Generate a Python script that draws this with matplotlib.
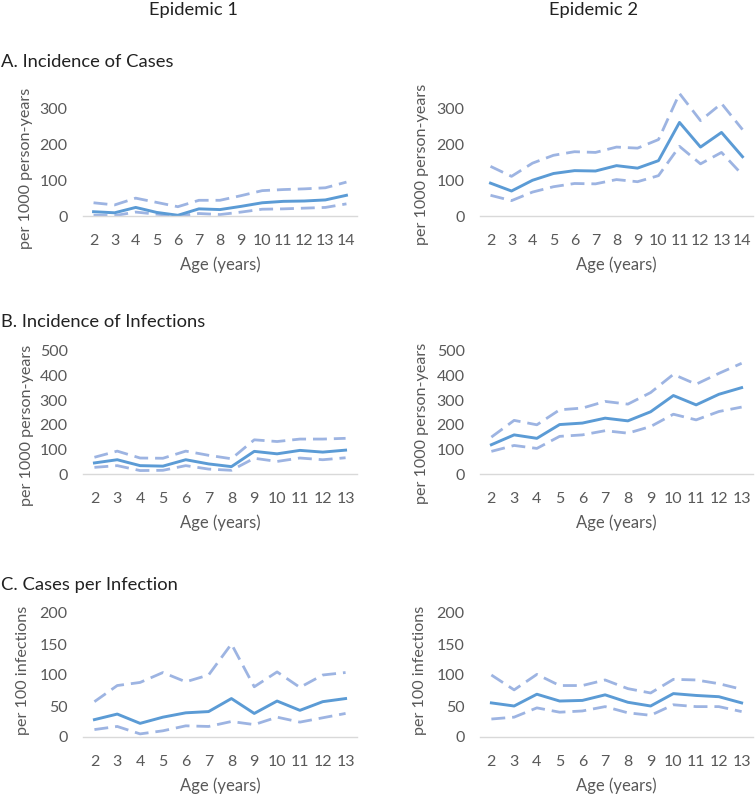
import matplotlib
matplotlib.use("Agg")
import matplotlib.pyplot as plt

plt.rcParams["font.family"] = ["Lato", "DejaVu Sans"]

W, H = 755, 795

# ages
ages_a = [2, 3, 4, 5, 6, 7, 8, 9, 10, 11, 12, 13, 14]
ages_bc = [2, 3, 4, 5, 6, 7, 8, 9, 10, 11, 12, 13]

# A. Incidence of cases (per 1000 person-years)
cases_e1_mean = [12, 9, 24, 10, 2, 20, 18, 27, 37, 41, 42, 45, 58]
cases_e1_upper = [37, 31, 50, 38, 26, 44, 44, 57, 71, 74, 76, 79, 95]
cases_e1_lower = [2, 1, 11, 5, 0, 7, 4, 11, 19, 20, 22, 24, 34]

cases_e2_mean = [92, 70, 100, 119, 127, 126, 141, 134, 155, 262, 193, 234, 166]
cases_e2_upper = [139, 111, 148, 170, 180, 178, 193, 190, 214, 343, 267, 315, 242]
cases_e2_lower = [58, 43, 67, 82, 91, 90, 102, 96, 113, 195, 146, 178, 115]

# B. Incidence of infections (per 1000 person-years)
inf_e1_mean = [45, 58, 34, 32, 58, 41, 30, 92, 82, 96, 89, 97]
inf_e1_upper = [68, 93, 65, 64, 93, 76, 62, 139, 132, 142, 142, 145]
inf_e1_lower = [27, 34, 14, 15, 34, 20, 15, 64, 51, 65, 58, 66]

inf_e2_mean = [119, 159, 145, 201, 207, 227, 216, 253, 319, 281, 324, 351]
inf_e2_upper = [150, 218, 200, 261, 268, 295, 284, 331, 405, 365, 409, 450]
inf_e2_lower = [92, 116, 104, 153, 159, 176, 166, 193, 243, 220, 254, 272]

# C. Cases per infection (per 100 infections)
cpi_e1_mean = [28, 37, 22, 32, 39, 41, 62, 38, 58, 43, 57, 62]
cpi_e1_upper = [57, 83, 88, 104, 89, 100, 150, 81, 105, 80, 100, 104]
cpi_e1_lower = [12, 17, 5, 10, 18, 17, 25, 20, 32, 24, 31, 38]

cpi_e2_mean = [55, 50, 69, 58, 59, 68, 56, 50, 70, 67, 65, 55]
cpi_e2_upper = [100, 76, 101, 83, 83, 92, 78, 71, 93, 92, 86, 77]
cpi_e2_lower = [29, 32, 47, 40, 42, 49, 39, 35, 52, 49, 49, 41]

MEAN_COLOR = "#5B9BD5"
CI_COLOR = "#9DB4E2"
TEXT_GREY = "#595959"
TICK_SIZE = 11.5


def px_axes(fig, x0, x1, y_top, y_bottom):
    return fig.add_axes([x0 / W, 1 - y_bottom / H, (x1 - x0) / W, (y_bottom - y_top) / H])


def draw_panel(ax, ages, mean, upper, lower, ymax, yticks):
    ax.plot(ages, upper, color=CI_COLOR, lw=2.0, linestyle=(0, (5, 2.5)))
    ax.plot(ages, lower, color=CI_COLOR, lw=2.0, linestyle=(0, (5, 2.5)))
    ax.plot(ages, mean, color=MEAN_COLOR, lw=2.1)
    ax.set_xlim(ages[0] - 0.5, ages[-1] + 0.5)
    ax.set_ylim(0, ymax)
    ax.set_xticks(ages)
    ax.set_yticks(yticks)
    for s in ["top", "right", "left"]:
        ax.spines[s].set_visible(False)
    ax.spines["bottom"].set_color("#D9D9D9")
    ax.spines["bottom"].set_linewidth(1.0)
    ax.tick_params(axis="both", length=0, labelsize=TICK_SIZE, colors=TEXT_GREY)
    ax.tick_params(axis="x", pad=13)
    ax.tick_params(axis="y", pad=11)
    ax.set_xlabel("Age (years)", fontsize=12, color=TEXT_GREY, labelpad=6)
    ax.patch.set_alpha(0)


fig = plt.figure(figsize=(W / 100, H / 100), dpi=100)

# column headers
fig.text(193 / W, 1 - 10 / H, "Epidemic 1", ha="center", va="center", fontsize=13.2, color="#222222")
fig.text(594 / W, 1 - 10 / H, "Epidemic 2", ha="center", va="center", fontsize=13.2, color="#222222")

# section titles
fig.text(1 / W, 1 - 62 / H, "A. Incidence of Cases", ha="left", va="center", fontsize=13.2, color="#222222")
fig.text(1 / W, 1 - 322 / H, "B. Incidence of Infections", ha="left", va="center", fontsize=13.2, color="#222222")
fig.text(1 / W, 1 - 585 / H, "C. Cases per Infection", ha="left", va="center", fontsize=13.2, color="#222222")

left_x = (83, 357)
right_x = (480, 753)

# row A
ax = px_axes(fig, *left_x, 91, 216)
draw_panel(ax, ages_a, cases_e1_mean, cases_e1_upper, cases_e1_lower, 350, [0, 100, 200, 300])
ax = px_axes(fig, *right_x, 91, 216)
draw_panel(ax, ages_a, cases_e2_mean, cases_e2_upper, cases_e2_lower, 350, [0, 100, 200, 300])

# row B
ax = px_axes(fig, *left_x, 351, 474)
draw_panel(ax, ages_bc, inf_e1_mean, inf_e1_upper, inf_e1_lower, 500, [0, 100, 200, 300, 400, 500])
ax = px_axes(fig, *right_x, 351, 474)
draw_panel(ax, ages_bc, inf_e2_mean, inf_e2_upper, inf_e2_lower, 500, [0, 100, 200, 300, 400, 500])

# row C
ax = px_axes(fig, *left_x, 613, 737)
draw_panel(ax, ages_bc, cpi_e1_mean, cpi_e1_upper, cpi_e1_lower, 200, [0, 50, 100, 150, 200])
ax = px_axes(fig, *right_x, 613, 737)
draw_panel(ax, ages_bc, cpi_e2_mean, cpi_e2_upper, cpi_e2_lower, 200, [0, 50, 100, 150, 200])

# y axis labels
ylabels = [
    (26, 168, "per 1000 person-years"),
    (422, 164, "per 1000 person-years"),
    (27, 425, "per 1000 person-years"),
    (422, 423, "per 1000 person-years"),
    (23, 670, "per 100 infections"),
    (420, 670, "per 100 infections"),
]
for x, y, label in ylabels:
    fig.text(x / W, 1 - y / H, label, rotation=90, ha="center", va="center",
             fontsize=11.6, color=TEXT_GREY)

fig.savefig("out.png", dpi=100)
